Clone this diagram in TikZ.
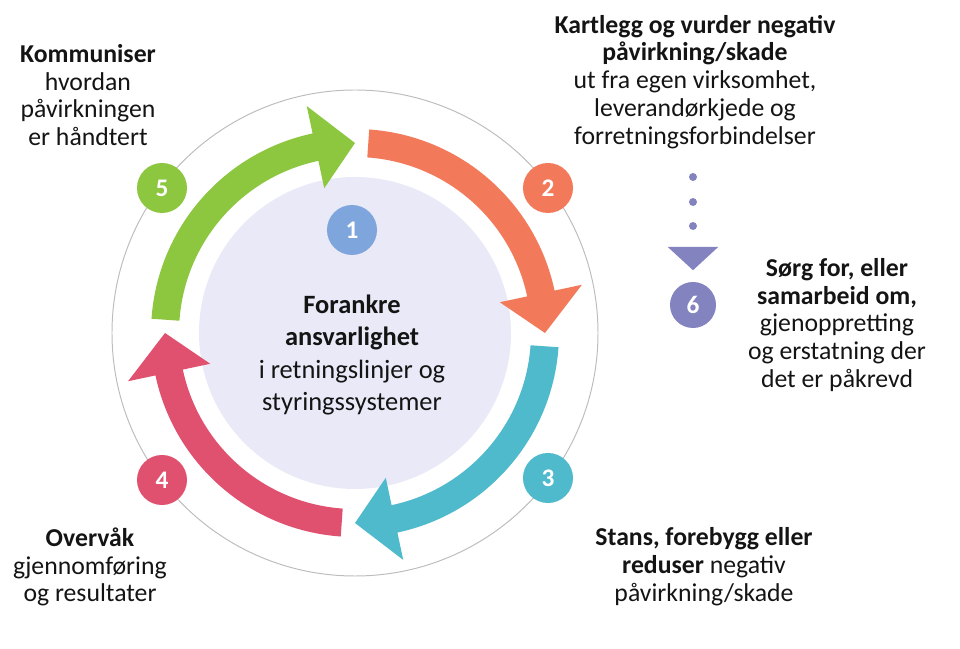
\documentclass[tikz,border=0pt]{standalone}
\usepackage{fontspec}
\setmainfont{Carlito}
\definecolor{orangearr}{HTML}{F27A5B}
\definecolor{tealarr}{HTML}{4FBACB}
\definecolor{pinkarr}{HTML}{E0516F}
\definecolor{greenarr}{HTML}{8DC63F}
\definecolor{bluenum}{HTML}{7EA6DC}
\definecolor{purplenum}{HTML}{8383C0}
\definecolor{lavender}{HTML}{E9E9F7}
\definecolor{ringgrey}{HTML}{BDBDBD}
\definecolor{txtcol}{HTML}{141414}
% thick curved arrow round the ring: colour, tail angle, head base angle, tip angle
\newcommand{\cyclearrow}[4]{%
  \fill[#1] (#2:204) arc[start angle=#2, end angle=#3, radius=204] -- (#3:232) -- (#4:190)
    -- (#3:148) -- (#3:176) arc[start angle=#3, end angle=#2, radius=176] -- cycle;}
\tikzset{
  label/.style={align=center, text=txtcol, font=\fontsize{18.3}{19.8}\selectfont},
  numb/.style={circle, fill=#1, minimum size=1.25cm, inner sep=0pt, text=white,
    font=\fontsize{18}{18}\selectfont\bfseries}
}
\begin{document}
\begin{tikzpicture}[x=0.025cm, y=0.025cm]
    \useasboundingbox (-355,-316) rectangle (605,333);
    \draw[ringgrey, line width=0.7pt] (0,0) circle (243);
    \fill[lavender] (0,0) circle (156);
    \cyclearrow{orangearr}{86}{12}{0}
    \cyclearrow{tealarr}{-4}{-78}{-90}
    \cyclearrow{pinkarr}{-94}{-168}{-180}
    \cyclearrow{greenarr}{176}{102}{90}
    \node[numb=bluenum] (one) at (-3,103) {1};
    \node[numb=orangearr] (two) at (193,145) {2};
    \node[numb=tealarr] (three) at (193,-145) {3};
    \node[numb=pinkarr] (four) at (-193,-147) {4};
    \node[numb=greenarr] (five) at (-193,145) {5};
    \node[label, font=\fontsize{18.8}{23}\selectfont] (anchorT) at (-3,-22)
        {\textbf{Forankre}\\\textbf{ansvarlighet}\\i retningslinjer  og\\styringssystemer};
    \node[label] (mapT) at (340,251)
        {\textbf{Kartlegg og vurder negativ}\\\textbf{påvirkning/skade}\\ut fra egen virksomhet,\\leverandørkjede  og\\forretningsforbindelser};
    \node[label] (stopT) at (349,-234)
        {\textbf{Stans, forebygg eller}\\\textbf{reduser} negativ\\påvirkning/skade};
    \node[label] (watchT) at (-265,-234)
        {\textbf{Overvåk}\\gjennomføring\\og resultater};
    \node[label] (talkT) at (-267,238)
        {\textbf{Kommuniser}\\hvordan\\påvirkningen\\er håndtert};
    \node[label] (fixT) at (482,8)
        {\textbf{Sørg for, eller}\\\textbf{samarbeid om,}\\gjenoppretting\\og erstatning der\\det er påkrevd};
    % dotted pointer down to step 6
    \fill[purplenum] (338,156) circle (4) (338,131) circle (4) (338,107) circle (4);
    \coordinate (tri) at (338,86);
    \node[numb=purplenum, minimum size=1.15cm] (six) at (338,28) {6};
    \fill[purplenum] ([xshift=-0.63cm]tri) -- ([xshift=0.63cm]tri) -- ([yshift=-0.58cm]tri) -- cycle;
\end{tikzpicture}
\end{document}
